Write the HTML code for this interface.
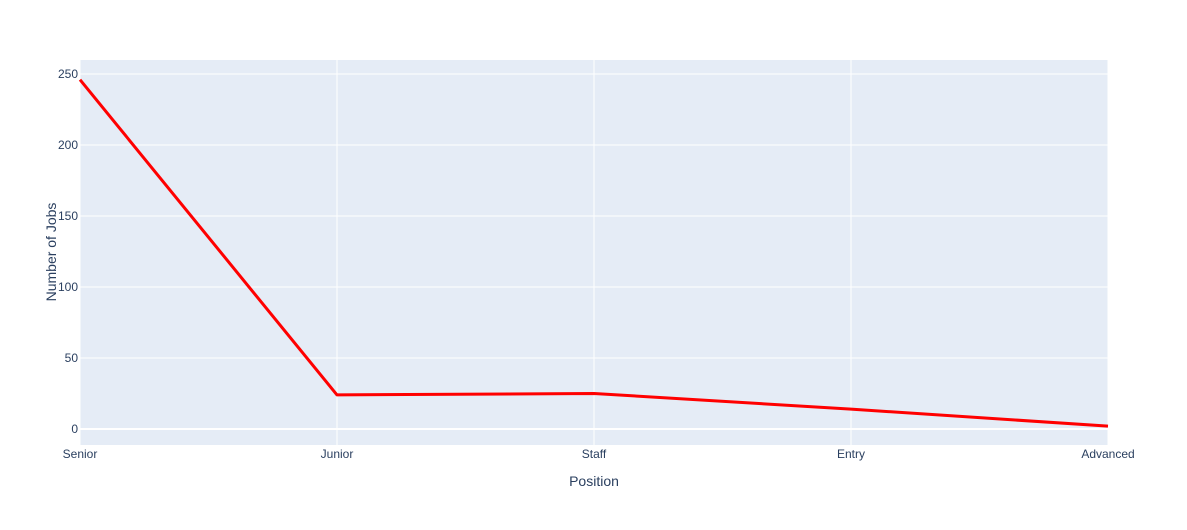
<!DOCTYPE html>
<html><head><meta charset="utf-8"><style>
body{margin:0;background:#fff;font-family:"Liberation Sans",sans-serif;}
svg text{font-family:"Liberation Sans",sans-serif;fill:#2a3f5f;}
</style></head><body>
<svg id="chart" width="1187" height="525">
<rect x="80" y="60" width="1028" height="385" fill="#e5ecf6"/>
<g id="grid"></g><g id="series"></g><g id="labels"></g>
<text x="594" y="486" text-anchor="middle" font-size="14">Position</text>
<text transform="translate(56,252) rotate(-90)" text-anchor="middle" font-size="14">Number of Jobs</text>
</svg>
<script>
const categories = ["Senior","Junior","Staff","Entry","Advanced"];
const jobs = [246, 24, 25, 14, 2];
const yTicks = [0, 50, 100, 150, 200, 250];
const NS="http://www.w3.org/2000/svg";
const x0=80,x1=1108,yTop=60,yBot=445,yMin=-11.97,yMax=259.15;
function xs(i){return x0+i*(x1-x0)/(categories.length-1);}
function ys(v){return yBot+1-(v-yMin)/(yMax-yMin)*(yBot-yTop);}
const grid=document.getElementById('grid'),lab=document.getElementById('labels'),ser=document.getElementById('series');
yTicks.forEach(t=>{
 const l=document.createElementNS(NS,'line');
 l.setAttribute('x1',x0);l.setAttribute('x2',x1);l.setAttribute('y1',ys(t));l.setAttribute('y2',ys(t));
 l.setAttribute('stroke','#fff');l.setAttribute('stroke-width',t===0?2:1);
 
 
 grid.appendChild(l);
 const tx=document.createElementNS(NS,'text');
 tx.setAttribute('x',x0-2);tx.setAttribute('y',ys(t)+4);tx.setAttribute('text-anchor','end');tx.setAttribute('font-size','12');
 tx.textContent=t;
 
 
 lab.appendChild(tx);
});
categories.forEach((c,i)=>{
 const l=document.createElementNS(NS,'line');
 l.setAttribute('x1',xs(i));l.setAttribute('x2',xs(i));l.setAttribute('y1',yTop);l.setAttribute('y2',yBot);
 l.setAttribute('stroke','#fff');l.setAttribute('stroke-width',1);
 
 
 grid.appendChild(l);
 const tx=document.createElementNS(NS,'text');
 tx.setAttribute('x',xs(i));tx.setAttribute('y',458);tx.setAttribute('text-anchor','middle');tx.setAttribute('font-size','12');
 tx.textContent=c;
 
 
 lab.appendChild(tx);
});
const p=document.createElementNS(NS,'polyline');
p.setAttribute('points',jobs.map((v,i)=>xs(i)+','+ys(v)).join(' '));
p.setAttribute('fill','none');p.setAttribute('stroke','#ff0000');p.setAttribute('stroke-width','3');p.setAttribute('stroke-linejoin','round');


ser.appendChild(p);
</script>
</body></html>
